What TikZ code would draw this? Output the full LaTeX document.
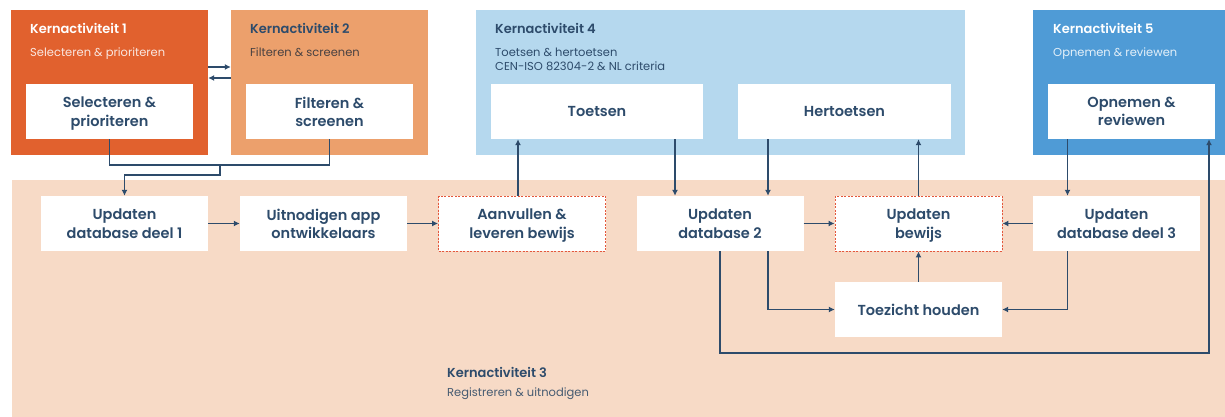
\documentclass[tikz,border=0pt]{standalone}
\usepackage{fontspec}
\setmainfont{Poppins}[BoldFont={Poppins SemiBold}]
\usetikzlibrary{arrows.meta}
\definecolor{kaone}{HTML}{E1612E}
\definecolor{katwo}{HTML}{ECA06C}
\definecolor{kathree}{HTML}{F7DAC6}
\definecolor{kafour}{HTML}{B5D8EE}
\definecolor{kafive}{HTML}{4F9BD6}
\definecolor{navy}{HTML}{2D4B6B}
\definecolor{dashred}{HTML}{E4573C}
\begin{document}
\begin{tikzpicture}[x=1pt,y=-1pt,
    box/.style={fill=white, text=navy, minimum width=167pt, minimum height=55pt, inner sep=0pt,
                text depth=0pt, align=center, font=\fontsize{14.5}{18.3}\selectfont\bfseries},
    proof/.style={box, draw=dashred, line width=0.9pt, dash pattern=on 2pt off 1.5pt},
    panel/.style={minimum height=145pt, inner sep=0pt},
    ttl/.style={anchor=west, inner sep=0pt, font=\fontsize{13}{15}\selectfont\bfseries},
    sub/.style={anchor=north west, align=left, inner sep=0pt, font=\fontsize{11.5}{14.5}\selectfont},
    link/.style={navy, line width=1.6pt},
    arr/.style={link, -{Latex[length=6pt,width=6pt]}}]
    \useasboundingbox (0,0) rectangle (1225,417);

    % Kernactiviteit 3: background band
    \fill[kathree] (12,180) rectangle (1225,417);
    \node[ttl, text=navy] (t3) at (447,372) {Kernactiviteit 3};
    \node[ttl, text=navy!70!gray, font=\fontsize{11.5}{14}\selectfont] (s3) at (447,394) {Registreren \& uitnodigen};

    % Top panels
    \node[panel, fill=kaone, minimum width=197pt] (ka1) at (109.5,82.5) {};
    \node[panel, fill=katwo, minimum width=197pt] (ka2) at (329.5,82.5) {};
    \node[panel, fill=kafour, minimum width=489pt] (ka4) at (720.5,82.5) {};
    \node[panel, fill=kafive, minimum width=192pt] (ka5) at (1129,82.5) {};
    \node[ttl, text=white] at (30,28) {Kernactiviteit 1};
    \node[sub, text=white!85!kaone] at (30,47.5) {Selecteren \& prioriteren};
    \node[ttl, text=navy] at (250,28) {Kernactiviteit 2};
    \node[sub, text=navy!60!katwo!60!black] at (250,47.5) {Filteren \& screenen};
    \node[ttl, text=navy] at (495,28) {Kernactiviteit 4};
    \node[sub, text=navy] at (495,47.5) {Toetsen \& hertoetsen\\CEN-ISO 82304-2 \& NL criteria};
    \node[ttl, text=white] at (1053,28) {Kernactiviteit 5};
    \node[sub, text=white!85!kafive] at (1053,47.5) {Opnemen \& reviewen};

    % Inner steps
    \node[box] (sel) at (109.5,111.5) {Selecteren \&\\prioriteren};
    \node[box] (fil) at (329.5,111.5) {Filteren \&\\screenen};
    \node[box, minimum width=212pt] (toe) at (597,111.5) {Toetsen};
    \node[box, minimum width=213pt] (her) at (844.5,111.5) {Hertoetsen};
    \node[box] (opn) at (1131.5,111.5) {Opnemen \&\\reviewen};

    % Row of steps in Kernactiviteit 3
    \foreach \n/\x/\t in {db1/124.5/{Updaten\\database deel 1}, uit/323.5/{Uitnodigen app\\ontwikkelaars},
                          db2/720/{Updaten\\database 2}, db3/1116.5/{Updaten\\database deel 3}}
        \node[box] (\n) at (\x,223.5) {\t};
    \node[proof] (aan) at (522,223.5) {Aanvullen \&\\leveren bewijs};
    \node[proof] (bew) at (918.5,223.5) {Updaten\\bewijs};
    \node[box] (toez) at (918.5,309.5) {Toezicht houden};

    % Connectors
    \draw[arr] ([yshift=15.5pt]ka1.east) -- ([yshift=15.5pt]ka2.west);
    \draw[arr] ([yshift=4.5pt]ka2.west) -- ([yshift=4.5pt]ka1.east);
    \coordinate (join) at (220,165);
    \draw[link] (sel.south) -- ++(0,26) -| (fil.south);
    \draw[arr] (join) -- ++(0,10) -| (db1.north);
    \draw[arr] (db1) -- (uit);
    \draw[arr] (uit) -- (aan);
    \draw[arr] ([xshift=-4pt]aan.north) -- ([xshift=-4pt]aan.north |- toe.south);
    \draw[arr] ([xshift=-45pt]db2.north |- toe.south) -- ([xshift=-45pt]db2.north);
    \draw[arr] ([xshift=48pt]db2.north |- her.south) -- ([xshift=48pt]db2.north);
    \draw[arr] (db2) -- (bew);
    \draw[arr] (bew) -- (bew |- her.south);
    \draw[arr] (db3) -- (bew);
    \draw[arr] ([xshift=-49pt]db3.north |- opn.south) -- ([xshift=-49pt]db3.north);
    \draw[arr] ([xshift=48pt]db2.south) |- (toez.west);
    \draw[arr] ([xshift=-49pt]db3.south) |- (toez.east);
    \draw[arr] (toez) -- (bew);
    \draw[arr] (db2.south) -- ++(0,102) -| ([xshift=77.5pt]opn.south);
\end{tikzpicture}
\end{document}
